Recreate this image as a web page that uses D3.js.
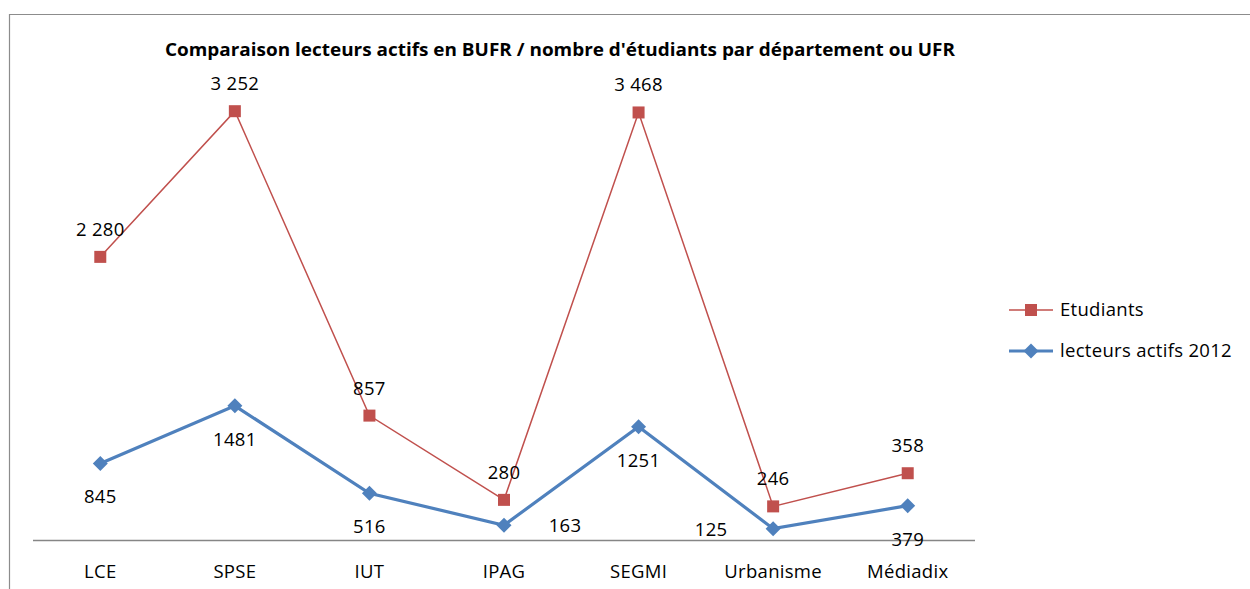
<!DOCTYPE html>
<html>
<head>
<meta charset="utf-8">
<script src="https://cdn.jsdelivr.net/npm/d3@7"></script>
<style>
  body { margin: 0; background: #fff; }
  text { font-family: "Open Sans", Lato, sans-serif; fill: #000; letter-spacing: 0.3px; }
</style>
</head>
<body>
<svg id="chart" width="1250" height="589"></svg>
<script>
const categories = ['LCE', 'SPSE', 'IUT', 'IPAG', 'SEGMI', 'Urbanisme', 'Médiadix'];
const lecteurs = [845, 1481, 516, 163, 1251, 125, 379];
const etudiants = [2280, 3252, 857, 280, 3468, 246, 358];
const series_names = ['lecteurs actifs 2012', 'Etudiants'];
const title = "Comparaison  lecteurs actifs  en BUFR / nombre d'étudiants par département ou UFR";

const red = '#C0504D';
const blue = '#4F81BD';
const fs = 18.5;

const svg = d3.select('#chart');

// frame (only top and left edges visible)
svg.append('path')
    .attr('d', 'M9.5,589 V14.5 H1250')
    .attr('fill', 'none')
    .attr('stroke', '#8c8c8c')
    .attr('stroke-width', 1.2);

svg.append('text')
    .attr('x', 560).attr('y', 56)
    .attr('text-anchor', 'middle')
    .attr('font-family', 'Lato, sans-serif')
    .attr('font-weight', 'bold')
    .attr('font-size', 17)
    .style('letter-spacing', '0px')
    .attr('textLength', 790)
    .attr('lengthAdjust', 'spacingAndGlyphs')
    .text(title);

// stacked lines: etudiants sit on top of lecteurs
const rows = categories.map((c, i) => ({ cat: c, lecteurs: lecteurs[i], etudiants: etudiants[i] }));
const stacked = d3.stack().keys(['lecteurs', 'etudiants'])(rows);

const x = d3.scaleBand().domain(categories).range([33, 975]);
const y = d3.scaleLinear().domain([0, 5000]).range([540, 87]);
const cx = c => x(c) + x.bandwidth() / 2;

svg.append('line')
    .attr('x1', 33).attr('x2', 975)
    .attr('y1', 540.5).attr('y2', 540.5)
    .attr('stroke', '#868686').attr('stroke-width', 1.5);

svg.selectAll('.xlab')
    .data(categories)
    .join('text')
    .attr('class', 'xlab')
    .attr('x', cx)
    .attr('y', 578)
    .attr('text-anchor', 'middle')
    .attr('font-size', fs)
    .text(d => d);

const line = d3.line().x(d => cx(d.data.cat)).y(d => y(d[1]));

// Etudiants (red, squares)
const et = stacked[1];
svg.append('path').datum(et)
    .attr('d', line)
    .attr('fill', 'none').attr('stroke', red).attr('stroke-width', 1.5);
svg.selectAll('.sq').data(et).join('rect')
    .attr('class', 'sq')
    .attr('x', d => cx(d.data.cat) - 6).attr('y', d => y(d[1]) - 6)
    .attr('width', 12).attr('height', 12)
    .attr('fill', red);
svg.selectAll('.etlab').data(et).join('text')
    .attr('class', 'etlab')
    .attr('x', d => cx(d.data.cat))
    .attr('y', d => y(d[1]) - 21)
    .attr('text-anchor', 'middle')
    .attr('font-size', fs)
    .text(d => d3.format(',')(d.data.etudiants).replace(',', ' '));

// lecteurs (blue, diamonds)
const le = stacked[0];
svg.append('path').datum(le)
    .attr('d', line)
    .attr('fill', 'none').attr('stroke', blue).attr('stroke-width', 3.2);
const diamond = 'M0,-7.5 L7.5,0 L0,7.5 L-7.5,0 Z';
svg.selectAll('.dm').data(le).join('path')
    .attr('class', 'dm')
    .attr('transform', d => `translate(${cx(d.data.cat)},${y(d[1])})`)
    .attr('d', diamond)
    .attr('fill', blue);
const place = { IPAG: 'right', Urbanisme: 'left' };
svg.selectAll('.lelab').data(le).join('text')
    .attr('class', 'lelab')
    .attr('x', d => {
        const p = place[d.data.cat];
        return cx(d.data.cat) + (p === 'right' ? 61 : p === 'left' ? -62 : 0);
    })
    .attr('y', d => y(d[1]) + (place[d.data.cat] ? 7 : 40))
    .attr('text-anchor', 'middle')
    .attr('font-size', fs)
    .text(d => d.data.lecteurs);

// legend
const legend = [
    { name: series_names[1], color: red, w: 1.5, mark: 'sq', y: 310 },
    { name: series_names[0], color: blue, w: 3.2, mark: 'dm', y: 351 }
];
const lg = svg.selectAll('.lg').data(legend).join('g')
    .attr('class', 'lg')
    .attr('transform', d => `translate(0,${d.y})`);
lg.append('line')
    .attr('x1', 1009).attr('x2', 1053)
    .attr('stroke', d => d.color).attr('stroke-width', d => d.w);
lg.filter(d => d.mark === 'sq').append('rect')
    .attr('x', 1025).attr('y', -6).attr('width', 12).attr('height', 12)
    .attr('fill', red);
lg.filter(d => d.mark === 'dm').append('path')
    .attr('transform', 'translate(1031,0)')
    .attr('d', diamond).attr('fill', blue);
lg.append('text')
    .attr('x', 1060).attr('y', 6)
    .attr('font-size', fs)
    .text(d => d.name);
</script>
</body>
</html>
